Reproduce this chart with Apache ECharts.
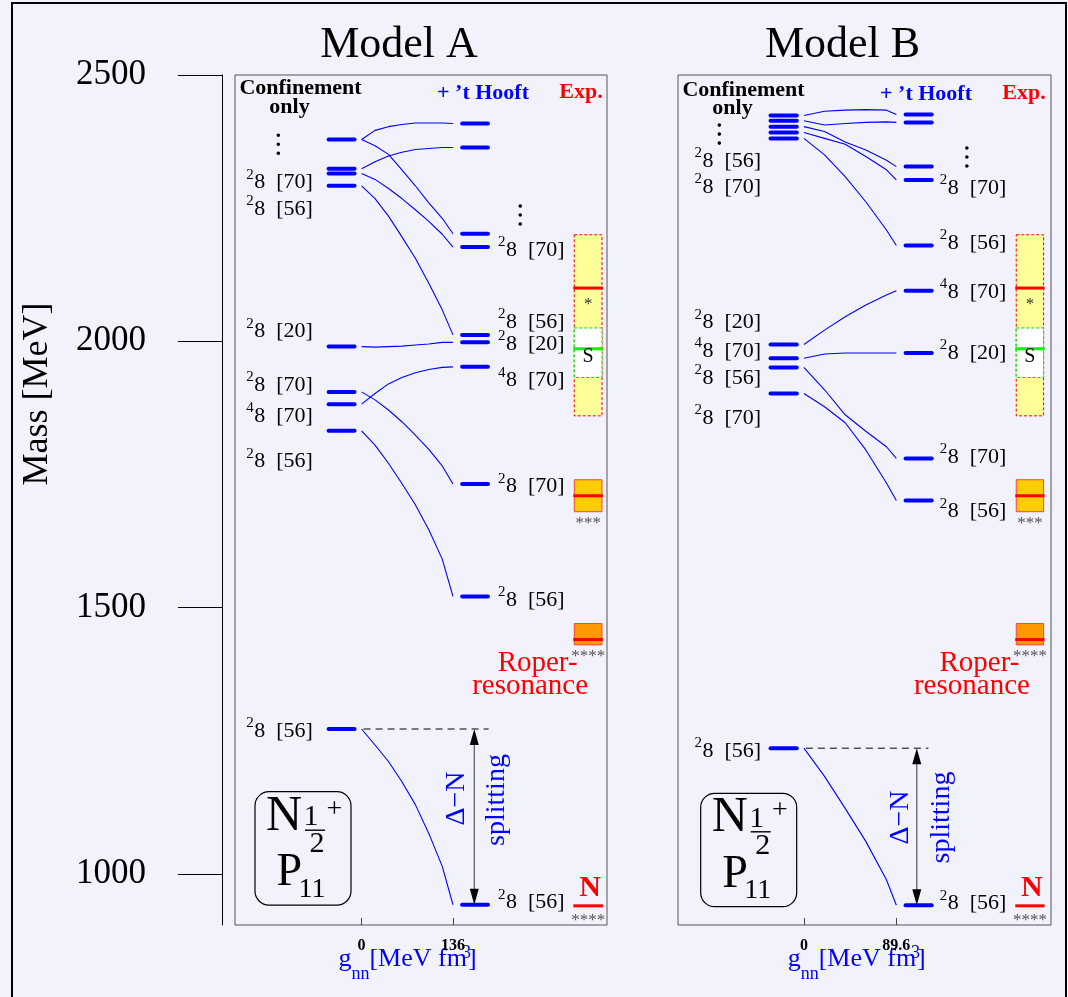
<!DOCTYPE html>
<html>
<head>
<meta charset="utf-8">
<title>Nucleon P11 spectrum: Model A and Model B</title>
<script src="https://cdn.jsdelivr.net/npm/echarts@6/dist/echarts.min.js"></script>
<style>
  html, body { margin: 0; padding: 0; background: #f2f2fc; }
  #chart { width: 1068px; height: 997px; }
</style>
</head>
<body>
<div id="chart"></div>
<script>
// ---------- mass axis ----------
const MASS_MIN = 904;
const MASS_MAX = 2500;
const MASS_TICKS = [1000, 1500, 2000, 2500];

// ---------- 't Hooft coupling (MeV fm^3) ----------
const G_A = 136;
const G_B = 89.6;
const G_STEPS_A = [0, 20, 40, 60, 80, 100, 120, 136];
const G_STEPS_B = [0, 20, 40, 60, 80, 89.6];

// ---------- Model A ----------
const A_CONF = [2379, 2324, 2315, 2292, 1990, 1905, 1882, 1832, 1272];
const A_HOOFT = [2409, 2364, 2202, 2177, 2012, 1998, 1952, 1732, 1521, 942];
// masses along g = G_STEPS_A for each state
const A_CURVES = [
  [2379, 2396, 2403, 2407, 2410, 2410, 2410, 2409],
  [2379, 2367, 2351, 2322, 2292, 2260, 2231, 2202],
  [2324, 2337, 2348, 2355, 2360, 2362, 2364, 2364],
  [2315, 2304, 2287, 2268, 2247, 2225, 2201, 2177],
  [2292, 2268, 2235, 2196, 2156, 2109, 2059, 2012],
  [1990, 1989, 1990, 1991, 1993, 1995, 1998, 1998],
  [1905, 1890, 1871, 1849, 1824, 1797, 1766, 1732],
  [1882, 1902, 1920, 1932, 1941, 1947, 1951, 1952],
  [1832, 1805, 1771, 1733, 1693, 1646, 1591, 1521],
  [1272, 1242, 1211, 1173, 1130, 1076, 1014, 942]
];
// multiplet labels: [2S+1, SU(6) multiplet, mass the label sits at]
const A_CONF_LABELS = [
  ['2', '[70]', 2298], ['2', '[56]', 2248], ['2', '[20]', 2018], ['2', '[70]', 1918],
  ['4', '[70]', 1859], ['2', '[56]', 1774], ['2', '[56]', 1268]
];
const A_HOOFT_LABELS = [
  ['2', '[70]', 2171], ['2', '[56]', 2036], ['2', '[20]', 1994], ['4', '[70]', 1926],
  ['2', '[70]', 1727], ['2', '[56]', 1514], ['2', '[56]', 946]
];
const A_MORE = [2370, 2237]; // "more states" marks: confinement side, 't Hooft side

// ---------- Model B ----------
const B_CONF = [2424, 2414, 2403, 2392, 2381, 1994, 1968, 1951, 1902, 1236];
const B_HOOFT = [2426, 2411, 2328, 2303, 2180, 2095, 1978, 1780, 1701, 941];
const B_CURVES = [
  [2424, 2432, 2434, 2435, 2434, 2426],
  [2414, 2406, 2409, 2411, 2412, 2411],
  [2403, 2394, 2374, 2359, 2340, 2328],
  [2392, 2381, 2370, 2347, 2322, 2303],
  [2381, 2350, 2309, 2262, 2209, 2180],
  [1994, 2021, 2046, 2068, 2087, 2095],
  [1968, 1976, 1978, 1978, 1978, 1978],
  [1951, 1909, 1862, 1831, 1802, 1780],
  [1902, 1877, 1847, 1796, 1734, 1701],
  [1236, 1183, 1123, 1061, 989, 941]
];
const B_CONF_LABELS = [
  ['2', '[56]', 2339], ['2', '[70]', 2290], ['2', '[20]', 2035], ['4', '[70]', 1981],
  ['2', '[56]', 1931], ['2', '[70]', 1855], ['2', '[56]', 1230]
];
const B_HOOFT_LABELS = [
  ['2', '[70]', 2288], ['2', '[56]', 2185], ['4', '[70]', 2092], ['2', '[20]', 1977],
  ['2', '[70]', 1783], ['2', '[56]', 1680], ['2', '[56]', 944]
];
const B_MORE = [2389, 2346];

// ---------- experiment ----------
const EXP_NAMES = ['N(939)', 'N(1440)', 'N(1710)', 'N(2100)', 'S'];
const EXP_MASS = [940, 1440, 1710, 2100, 1986];
const EXP_LOW = [null, 1430, 1680, 1860, 1932];
const EXP_HIGH = [null, 1470, 1740, 2200, 2025];
const EXP_RATING = ['****', '****', '***', '*', 'S'];
const EXP_NOTES = [['N'], ['Roper-', 'resonance'], [], [], []];

// ---------- styling ----------
const SERIF = "'Liberation Serif', 'Times New Roman', serif";
const BLUE = '#0000ff';
const RED = '#ff0000';
const INK = '#000000';

const EXP_STYLE = [
  { line: RED, from: 'line', dy: 6, size: 17, color: '#555' },
  { fill: '#ff9900', stroke: '#ff4040', line: RED, from: 'low', dy: 3, size: 17, color: '#555' },
  { fill: '#ffcc00', stroke: '#ff4040', line: RED, from: 'low', dy: 3, size: 17, color: '#555' },
  { fill: '#ffff99', stroke: RED, dash: [3, 2], line: RED, from: 'line', dy: 8, size: 17, color: '#333' },
  { fill: '#ffffff', stroke: '#00dd00', dash: [3, 2], line: '#00ff00', from: 'line', dy: 8, size: 20, color: INK }
];
// level bars, in units of the panel's full coupling
const BAR_T = [[-0.361, -0.077], [1.100, 1.383]];

const PANELS = [
  {
    title: 'Model A', gMax: G_A, gSteps: G_STEPS_A, conf: A_CONF, hooft: A_HOOFT, curves: A_CURVES,
    confLabels: A_CONF_LABELS, hooftLabels: A_HOOFT_LABELS, more: A_MORE,
    grid: { left: 235, top: 75, width: 372, height: 850 }, tMin: -1.385, tMax: 2.685,
    label8T: [-1.174, 1.580], moreT: [-0.911, 1.736], expT: [2.327, 2.630],
    dashEndT: 1.39, arrowT: 1.233, headY: [88.5, 107.6, 93.3],
    splitText: [[456.7, 798.5], [497, 800]], qnBox: [255, 791.7], axisNameX: 407.5
  },
  {
    title: 'Model B', gMax: G_B, gSteps: G_STEPS_B, conf: B_CONF, hooft: B_HOOFT, curves: B_CURVES,
    confLabels: B_CONF_LABELS, hooftLabels: B_HOOFT_LABELS, more: B_MORE,
    grid: { left: 678, top: 75, width: 373, height: 850 }, tMin: -1.362, tMax: 2.673,
    label8T: [-1.098, 1.555], moreT: [-0.915, 1.763], expT: [2.297, 2.593],
    dashEndT: 1.347, arrowT: 1.221, headY: [90.5, 108.6, 94.2],
    splitText: [[901, 817.5], [941.7, 817.5]], qnBox: [700.7, 793.3], axisNameX: 856.7
  }
];

// text style helper
function T(text, x, y, size, align, o) {
  o = o || {};
  const va = o.va || 'middle';
  return {
    text: text, x: x, y: y,
    font: (o.weight || 'normal') + ' ' + size + 'px ' + SERIF,
    fill: o.fill || INK,
    align: align, textAlign: align,
    verticalAlign: va, textVerticalAlign: va
  };
}
const mctx = document.createElement('canvas').getContext('2d');
function textWidth(s, size, weight) {
  mctx.font = (weight || 'normal') + ' ' + size + 'px ' + SERIF;
  return mctx.measureText(s).width;
}

const series = [];
const graphics = [];

PANELS.forEach(function (p, i) {
  const g = p.gMax;

  // coupling-dependence of each state
  p.curves.forEach(function (c) {
    series.push({
      type: 'line', xAxisIndex: i, yAxisIndex: i, silent: true, z: 2,
      data: p.gSteps.map(function (gv, k) { return [gv, c[k]]; }),
      showSymbol: false, symbol: 'none', smooth: false,
      lineStyle: { color: BLUE, width: 1.1 }
    });
  });

  // level bars
  const bars = p.conf.map(function (m) { return [0, m]; })
    .concat(p.hooft.map(function (m) { return [1, m]; }));
  series.push({
    type: 'custom', xAxisIndex: i, yAxisIndex: i, silent: true, z: 3,
    data: bars,
    renderItem: function (params, api) {
      const side = api.value(0), m = api.value(1);
      const a = api.coord([BAR_T[side][0] * g, m]);
      const b = api.coord([BAR_T[side][1] * g, m]);
      return { type: 'line', shape: { x1: a[0], y1: a[1], x2: b[0], y2: b[1] },
        style: { stroke: BLUE, lineWidth: 4, lineCap: 'round' } };
    }
  });

  // multiplet labels
  const labs = p.confLabels.map(function (l) { return { side: 0, l: l }; })
    .concat(p.hooftLabels.map(function (l) { return { side: 1, l: l }; }));
  series.push({
    type: 'custom', xAxisIndex: i, yAxisIndex: i, silent: true, z: 5,
    data: labs.map(function (it) { return [it.side, it.l[2]]; }),
    renderItem: function (params, api) {
      const it = labs[params.dataIndex];
      const pt = api.coord([p.label8T[it.side] * g, api.value(1)]);
      return { type: 'group', children: [
        { type: 'text', style: T(it.l[0], pt[0] - 0.5, pt[1] - 8, 15, 'right') },
        { type: 'text', style: T('8  ' + it.l[1], pt[0], pt[1], 22, 'left') }
      ] };
    }
  });

  // vertical ellipses above the listed states
  series.push({
    type: 'custom', xAxisIndex: i, yAxisIndex: i, silent: true, z: 5,
    data: p.more.map(function (m, side) { return [side, m]; }),
    renderItem: function (params, api) {
      const side = api.value(0);
      const pt = api.coord([p.moreT[side] * g, api.value(1)]);
      return { type: 'group', children: [-9, 0, 9].map(function (d) {
        return { type: 'circle', shape: { cx: pt[0], cy: pt[1] + d, r: 1.8 }, style: { fill: INK } };
      }) };
    }
  });

  // experimental column
  series.push({
    type: 'custom', xAxisIndex: i, yAxisIndex: i, silent: true, z: 4,
    data: EXP_MASS.map(function (m) { return [p.expT[0] * g, m]; }),
    renderItem: function (params, api) {
      const k = params.dataIndex, s = EXP_STYLE[k];
      const xl = api.coord([p.expT[0] * g, EXP_MASS[k]])[0];
      const xr = api.coord([p.expT[1] * g, EXP_MASS[k]])[0];
      const xc = (xl + xr) / 2;
      const ym = api.coord([0, EXP_MASS[k]])[1];
      const ch = [];
      let yb = ym;
      if (EXP_LOW[k] != null) {
        const yt = api.coord([0, EXP_HIGH[k]])[1];
        yb = api.coord([0, EXP_LOW[k]])[1];
        const st = { fill: s.fill, stroke: s.stroke, lineWidth: 1 };
        if (s.dash) st.lineDash = s.dash;
        ch.push({ type: 'rect', shape: { x: xl, y: yt, width: xr - xl, height: yb - yt }, style: st });
      }
      ch.push({ type: 'line', shape: { x1: xl - 1, y1: ym, x2: xr + 1, y2: ym },
        style: { stroke: s.line, lineWidth: 3 } });
      const ry = (s.from === 'low' ? yb : ym) + s.dy;
      ch.push({ type: 'text', style: T(EXP_RATING[k], xc, ry, s.size, 'center',
        { fill: s.color, va: k === 4 ? 'middle' : 'top' }) });
      const notes = EXP_NOTES[k];
      if (k === 0 && notes.length) {
        ch.push({ type: 'text', style: T(notes[0], xc + 2, ym - 3, 30, 'center',
          { fill: RED, weight: 'bold', va: 'bottom' }) });
      }
      if (k === 1 && notes.length) {
        ch.push({ type: 'text', style: T(notes[0], xc - 50.5, yb + 19, 29, 'center', { fill: RED }) });
        ch.push({ type: 'text', style: T(notes[1], xc - 58, yb + 42, 29, 'center', { fill: RED }) });
      }
      return { type: 'group', children: ch };
    }
  });

  // Delta-N splitting: reference line and double arrow
  const mTop = p.conf[p.conf.length - 1];
  const mBot = p.hooft[p.hooft.length - 1];
  series.push({
    type: 'custom', xAxisIndex: i, yAxisIndex: i, silent: true, z: 4,
    data: [[0, mTop, mBot]],
    renderItem: function (params, api) {
      const top = api.coord([0, api.value(1)]);
      const xEnd = api.coord([p.dashEndT * g, api.value(1)])[0];
      const xa = api.coord([p.arrowT * g, api.value(1)])[0];
      const yBot = api.coord([0, api.value(2)])[1];
      const yTop = top[1];
      return { type: 'group', children: [
        { type: 'line', shape: { x1: top[0] + 2, y1: yTop, x2: xEnd, y2: yTop },
          style: { stroke: INK, lineWidth: 1, lineDash: [7, 5] } },
        { type: 'line', shape: { x1: xa, y1: yTop + 12, x2: xa, y2: yBot - 12 },
          style: { stroke: '#555', lineWidth: 1.2 } },
        { type: 'polygon', shape: { points: [[xa, yTop], [xa - 4.5, yTop + 16], [xa + 4.5, yTop + 16]] },
          style: { fill: INK } },
        { type: 'polygon', shape: { points: [[xa, yBot], [xa - 4.5, yBot - 16], [xa + 4.5, yBot - 16]] },
          style: { fill: INK } }
      ] };
    }
  });

  // titles and column headers
  const L = p.grid.left;
  const cx = L + p.grid.width / 2;
  graphics.push({ type: 'text', style: T(p.title, cx - 22, 45, 44, 'center') });
  graphics.push({ type: 'text', style: T('Confinement', L + 65.5, p.headY[0], 22, 'center', { weight: 'bold' }) });
  graphics.push({ type: 'text', style: T('only', L + 54.5, p.headY[1], 22, 'center', { weight: 'bold' }) });
  graphics.push({ type: 'text', style: T('+ \u2019t Hooft', L + 248, p.headY[2], 22, 'center', { weight: 'bold', fill: BLUE }) });
  graphics.push({ type: 'text', style: T('Exp.', L + 346, p.headY[2] - 0.5, 22, 'center', { weight: 'bold', fill: RED }) });

  // splitting annotation
  graphics.push({ type: 'text', x: p.splitText[0][0], y: p.splitText[0][1], rotation: Math.PI / 2,
    style: T('\u0394\u2212N', 0, 0, 28, 'center', { fill: BLUE }) });
  graphics.push({ type: 'text', x: p.splitText[1][0], y: p.splitText[1][1], rotation: Math.PI / 2,
    style: T('splitting', 0, 0, 28, 'center', { fill: BLUE }) });

  // quantum numbers box
  const bx = p.qnBox[0], by = p.qnBox[1];
  graphics.push({ type: 'rect', shape: { x: bx, y: by, width: 96, height: 113.4, r: 14 },
    style: { fill: 'none', stroke: INK, lineWidth: 1.2 } });
  graphics.push({ type: 'text', style: T('N', bx + 11, by + 25, 50, 'left') });
  graphics.push({ type: 'text', style: T('1', bx + 56, by + 25.7, 30, 'center') });
  graphics.push({ type: 'line', shape: { x1: bx + 50, y1: by + 38.5, x2: bx + 70, y2: by + 38.5 },
    style: { stroke: INK, lineWidth: 1.4 } });
  graphics.push({ type: 'text', style: T('2', bx + 62, by + 52.5, 30, 'center') });
  graphics.push({ type: 'text', style: T('+', bx + 79.3, by + 17.7, 28, 'center') });
  graphics.push({ type: 'text', style: T('P', bx + 34.3, by + 81.7, 46, 'center') });
  graphics.push({ type: 'text', style: T('11', bx + 57, by + 97.5, 28, 'center') });

  // coupling axis name: g_nn [MeV fm^3]
  const wg = textWidth('g', 26), wnn = textWidth('nn', 18), wm = textWidth('[MeV fm', 26), wb = textWidth(']', 26);
  const total = wg + wnn + wm + wb + 1;
  const x0 = p.axisNameX - total / 2;
  graphics.push({ type: 'text', style: T('g', x0, 959.5, 26, 'left', { fill: BLUE }) });
  graphics.push({ type: 'text', style: T('nn', x0 + wg, 974, 18, 'left', { fill: BLUE }) });
  graphics.push({ type: 'text', style: T('[MeV fm', x0 + wg + wnn, 959.5, 26, 'left', { fill: BLUE }) });
  graphics.push({ type: 'text', style: T('3', x0 + wg + wnn + wm - 5, 953, 18, 'left', { fill: BLUE }) });
  graphics.push({ type: 'text', style: T(']', x0 + wg + wnn + wm + 1, 959.5, 26, 'left', { fill: BLUE }) });
});

// page frame and mass axis name
graphics.unshift({ type: 'rect', z: -10, shape: { x: 12, y: 3, width: 1054, height: 1010 },
  style: { fill: 'none', stroke: INK, lineWidth: 2 } });
graphics.push({ type: 'text', x: 38, y: 394, rotation: Math.PI / 2, style: T('Mass [MeV]', 0, 0, 36, 'center') });

const option = {
  backgroundColor: '#f2f2fc',
  animation: false,
  grid: PANELS.map(function (p) {
    return { left: p.grid.left, top: p.grid.top, width: p.grid.width, height: p.grid.height,
      show: true, borderColor: '#555', borderWidth: 1, backgroundColor: 'transparent', containLabel: false };
  }),
  xAxis: PANELS.map(function (p, i) {
    return {
      type: 'value', gridIndex: i, min: p.tMin * p.gMax, max: p.tMax * p.gMax,
      axisLine: { show: false, onZero: false },
      splitLine: { show: false },
      axisTick: { show: true, inside: true, length: 7, customValues: [0, p.gMax], lineStyle: { color: '#444' } },
      axisLabel: { customValues: [0, p.gMax], margin: 13, fontFamily: SERIF, fontWeight: 'bold', fontSize: 16,
        color: INK, formatter: function (v) { return String(v); } }
    };
  }),
  yAxis: [
    {
      type: 'value', gridIndex: 0, position: 'left', offset: 13, min: MASS_MIN, max: MASS_MAX,
      axisLine: { show: true, onZero: false, lineStyle: { color: INK, width: 1 } },
      axisTick: { show: true, length: 44, customValues: MASS_TICKS, lineStyle: { color: INK, width: 1 } },
      axisLabel: { customValues: MASS_TICKS, margin: 76, fontSize: 35, fontFamily: SERIF, color: INK,
        formatter: function (v) { return String(v); } },
      splitLine: { show: false }
    },
    { type: 'value', gridIndex: 1, min: MASS_MIN, max: MASS_MAX, show: false,
      axisLine: { onZero: false }, splitLine: { show: false } }
  ],
  series: series,
  graphic: { elements: graphics }
};

const chart = echarts.init(document.getElementById('chart'), null, { renderer: 'canvas' });
chart.setOption(option);
</script>
</body>
</html>
